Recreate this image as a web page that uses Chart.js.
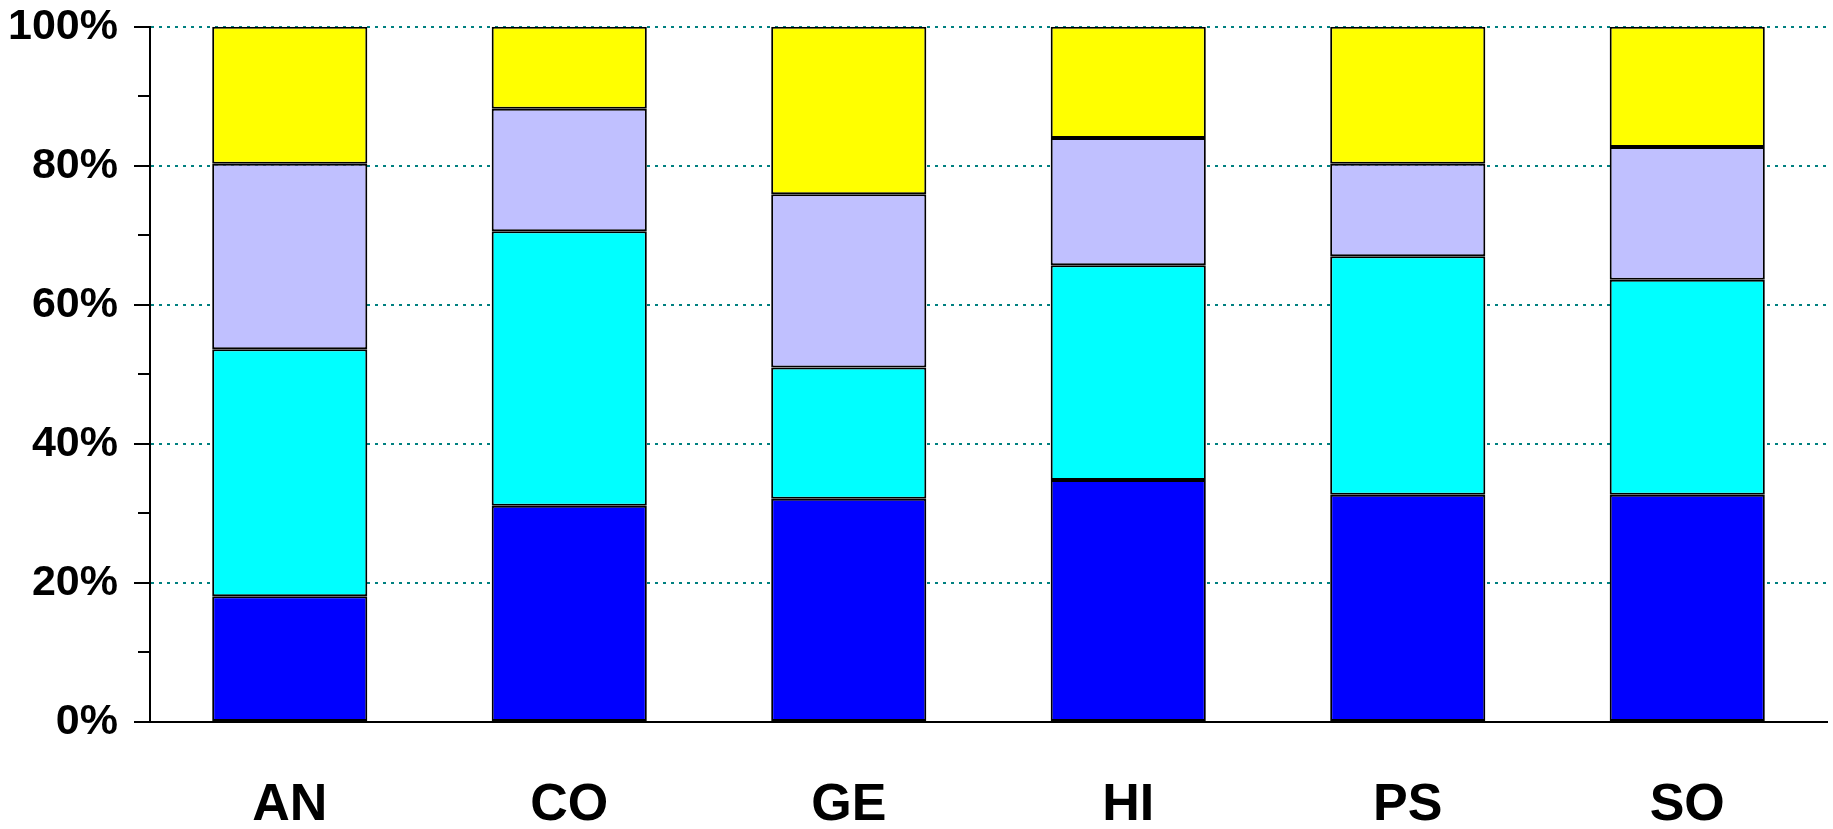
<!DOCTYPE html>
<html>
<head>
<meta charset="utf-8">
<script src="https://cdn.jsdelivr.net/npm/chart.js@4.4.1/dist/chart.umd.min.js"></script>
<style>
  html, body { margin: 0; padding: 0; background: #fff; }
  #wrap { width: 1833px; height: 829px; position: relative; }
</style>
</head>
<body>
<div id="wrap"><canvas id="c" width="1833" height="829"></canvas></div>
<script>
const categories = ["AN", "CO", "GE", "HI", "PS", "SO"];
const seriesNames = ["Series 1", "Series 2", "Series 3", "Series 4"];
const series1 = [18.1, 31.1, 32.1, 34.8, 32.7, 32.7];
const series2 = [35.5, 39.5, 18.9, 30.9, 34.3, 30.9];
const series3 = [26.7, 17.6, 24.9, 18.3, 13.3, 19.1];
const series4 = [19.7, 11.8, 24.1, 16.0, 19.7, 17.3];
const seriesColors = ["#0000FF", "#00FFFF", "#C0C0FF", "#FFFF00"];
const yMax = 100;
const yMinorStep = 10;
const yLabelStep = 20;

const FONT = "'Liberation Sans', Arial, sans-serif";

const tickPlugin = {
  id: 'yTicks',
  afterDraw(chart) {
    const y = chart.scales.y;
    const ctx = chart.ctx;
    const x0 = chart.chartArea.left;
    ctx.save();
    ctx.strokeStyle = '#000';
    ctx.lineWidth = 2;
    for (let v = 0; v <= yMax; v += yMinorStep) {
      const py = Math.round(y.getPixelForValue(v));
      const len = (v % yLabelStep === 0) ? 16 : 12;
      ctx.beginPath();
      ctx.moveTo(x0 - len, py);
      ctx.lineTo(x0, py);
      ctx.stroke();
    }
    ctx.restore();
  }
};

const allSeries = [series1, series2, series3, series4];
const datasets = allSeries.map((d, i) => ({
  label: seriesNames[i],
  data: d,
  backgroundColor: seriesColors[i],
  borderColor: '#000',
  borderWidth: 2,
  borderSkipped: false,
  barPercentage: 0.555,
  categoryPercentage: 1.0
}));

new Chart(document.getElementById('c'), {
  type: 'bar',
  data: { labels: categories, datasets },
  plugins: [tickPlugin],
  options: {
    responsive: false,
    animation: false,
    devicePixelRatio: 1,
    layout: { padding: { top: 0, right: 6, left: 0, bottom: 0 } },
    plugins: { legend: { display: false }, tooltip: { enabled: false } },
    scales: {
      x: {
        stacked: true,
        grid: { display: false, drawTicks: false },
        border: { display: true, color: '#000', width: 2 },
        ticks: {
          color: '#000',
          padding: 52,
          font: { family: FONT, size: 52, weight: 'bold' }
        },
        afterFit(scale) { scale.height = 107; }
      },
      y: {
        stacked: true,
        min: 0,
        max: yMax,
        grid: {
          drawTicks: true,
          tickLength: 31,
          tickColor: 'rgba(0,0,0,0)',
          lineWidth: 2,
          color: (c) => (c.tick && c.tick.value % yLabelStep === 0 && c.tick.value !== 0) ? '#008080' : 'rgba(0,0,0,0)'
        },
        border: { display: true, color: '#000', width: 2, dash: [3, 5] },
        ticks: {
          stepSize: yMinorStep,
          color: '#000',
          padding: 1,
          font: { family: FONT, size: 43, weight: 'bold', lineHeight: 1.2 },
          callback: (v) => (v % yLabelStep === 0) ? v + '%' : ''
        },
        afterFit(scale) { scale.width = 150; }
      }
    }
  }
});
</script>
</body>
</html>
